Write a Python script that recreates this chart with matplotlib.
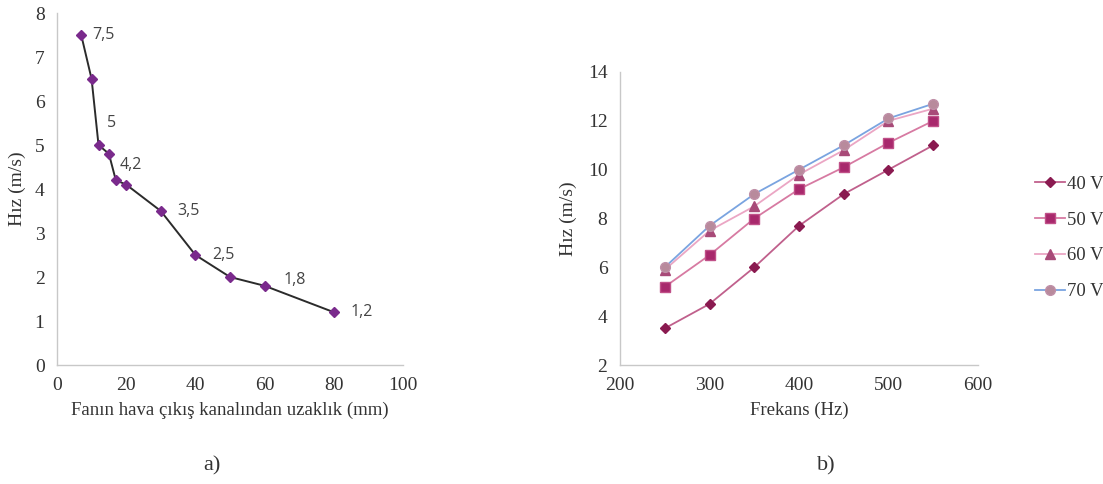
import matplotlib.pyplot as plt

# a) hız - uzaklık
distance = [7, 10, 12, 15, 17, 20, 30, 40, 50, 60, 80]
speed = [7.5, 6.5, 5.0, 4.8, 4.2, 4.1, 3.5, 2.5, 2.0, 1.8, 1.2]
point_labels = ["7,5", "", "5", "", "4,2", "", "3,5", "2,5", "", "1,8", "1,2"]

# b) hız - frekans
freq = [250, 300, 350, 400, 450, 500, 550]
v40 = [3.5, 4.5, 6.0, 7.7, 9.0, 10.0, 11.0]
v50 = [5.2, 6.5, 8.0, 9.2, 10.1, 11.1, 12.0]
v60 = [5.9, 7.5, 8.5, 9.8, 10.8, 12.0, 12.5]
v70 = [6.0, 7.7, 9.0, 10.0, 11.0, 12.1, 12.7]
series_names = ["40 V", "50 V", "60 V", "70 V"]

plt.rcParams["font.family"] = ["Liberation Serif", "DejaVu Serif"]
W, H = 1103, 484
fig = plt.figure(figsize=(W / 100, H / 100), dpi=100)


def px_axes(x0, y0, x1, y1):
    return fig.add_axes([x0 / W, 1 - y1 / H, (x1 - x0) / W, (y1 - y0) / H])


def style(ax):
    for s in ("top", "right"):
        ax.spines[s].set_visible(False)
    for s in ("left", "bottom"):
        ax.spines[s].set_color("#c8c8c8")
        ax.spines[s].set_linewidth(1.0)
    ax.tick_params(length=0, labelsize=14, colors="#333333", pad=9)


ax1 = px_axes(57, 13, 403, 365)
ax1.plot(distance, speed, color="#2b2b2b", lw=1.4, marker="D", ms=5,
         mfc="#7a2a8c", mec="#7a2a8c")
# label offsets in points
offsets = {0: (8, 0), 2: (6, 16), 4: (3, 11), 6: (12, 0), 7: (12, 0),
           9: (14, 4), 10: (12, 0)}
for i, lab in enumerate(point_labels):
    if lab:
        dx, dy = offsets[i]
        ax1.annotate(lab, (distance[i], speed[i]), xytext=(dx, dy),
                     textcoords="offset points", va="center", ha="left",
                     fontsize=11.5, color="#444444", family="Open Sans")
ax1.set_xlim(0, 100)
ax1.set_ylim(0, 8)
ax1.set_xticks(range(0, 101, 20))
ax1.set_yticks(range(0, 9))
style(ax1)
ax1.set_xlabel("Fanın hava çıkış kanalından uzaklık (mm)", fontsize=13.5,
               color="#333333", labelpad=5)
ax1.set_ylabel("Hız (m/s)", fontsize=14, color="#333333", labelpad=6)

ax2 = px_axes(620, 72, 978, 365)
ax2.plot(freq, v40, color="#c0608c", lw=1.3, marker="D", ms=5,
         mfc="#8a1a50", mec="#8a1a50", label=series_names[0])
ax2.plot(freq, v50, color="#d77aa2", lw=1.3, marker="s", ms=7,
         mfc="#a8286c", mec="#c05088", label=series_names[1])
ax2.plot(freq, v60, color="#eba6c4", lw=1.3, marker="^", ms=7,
         mfc="#a84a78", mec="#a84a78", label=series_names[2])
ax2.plot(freq, v70, color="#7aa4e0", lw=1.3, marker="o", ms=7,
         mfc="#b88a9c", mec="#c090a8", label=series_names[3])
ax2.set_xlim(200, 600)
ax2.set_ylim(2, 14)
ax2.set_xticks(range(200, 601, 100))
ax2.set_yticks(range(2, 15, 2))
style(ax2)
ax2.set_xlabel("Frekans (Hz)", fontsize=13.5, color="#333333", labelpad=5)
ax2.set_ylabel("Hız (m/s)", fontsize=14, color="#333333", labelpad=8)
ax2.legend(loc="center left", bbox_to_anchor=(1018 / W, 1 - 238 / H),
           bbox_transform=fig.transFigure, frameon=False, fontsize=13.5,
           handlelength=1.6, handletextpad=0.1, labelspacing=1.0,
           labelcolor="#333333")

fig.text(212 / W, 1 - 466 / H, "a)", fontsize=16, ha="center", va="center",
         color="#333333")
fig.text(826 / W, 1 - 466 / H, "b)", fontsize=16, ha="center", va="center",
         color="#333333")

fig.savefig("out.png", dpi=100)
